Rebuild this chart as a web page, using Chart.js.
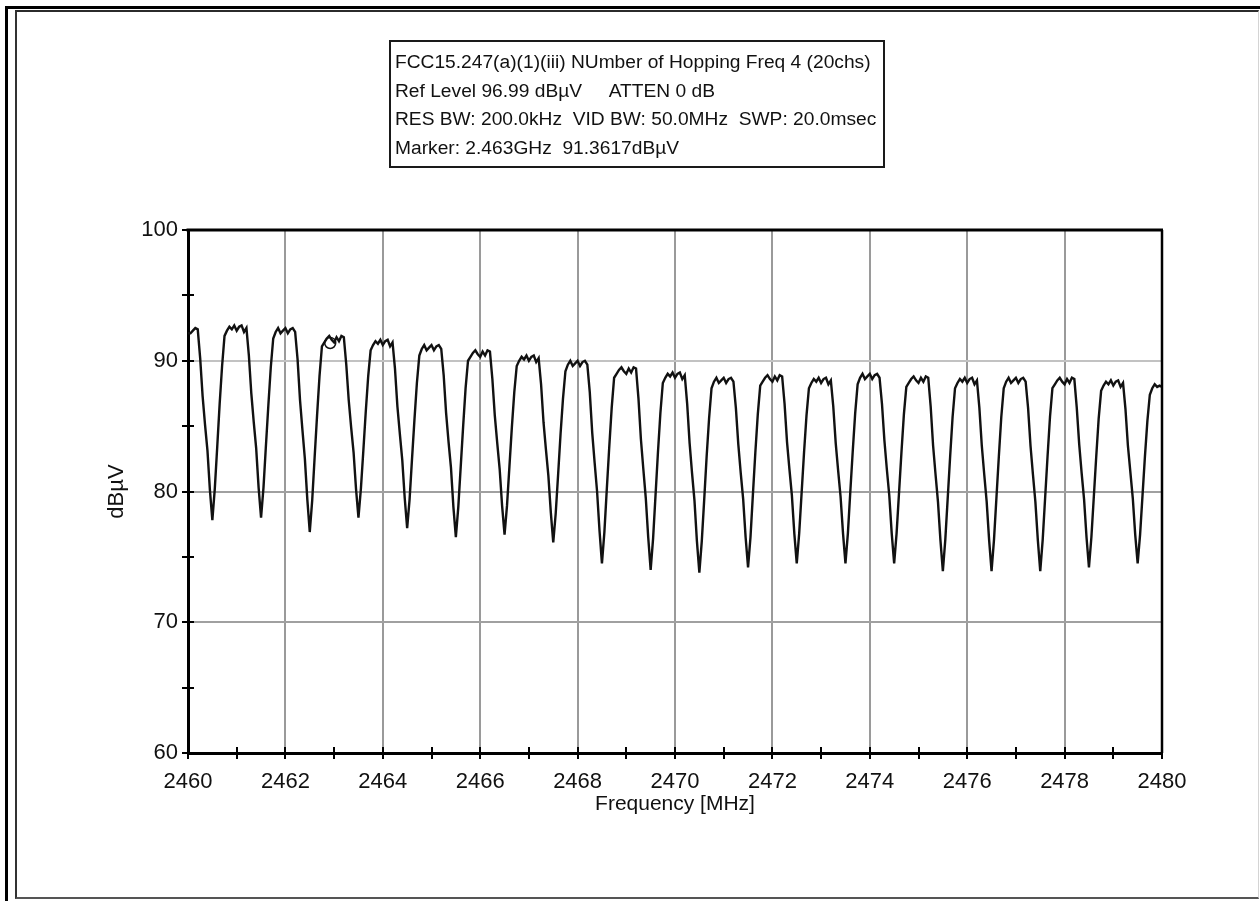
<!DOCTYPE html>
<html><head><meta charset="utf-8">
<script src="https://cdn.jsdelivr.net/npm/chart.js@4.4.0/dist/chart.umd.min.js"></script>
<style>
html,body{margin:0;padding:0;background:#fff;}
#wrap{position:relative;width:1260px;height:901px;overflow:hidden;background:#fff;}
.fr{position:absolute;}
canvas{position:absolute;left:0;top:0;}
</style></head><body>
<div id="wrap">
<div class="fr" style="left:5px;top:6px;width:1255px;height:3px;background:#000"></div>
<div class="fr" style="left:5px;top:6px;width:3px;height:895px;background:#000"></div>
<div class="fr" style="left:15px;top:10px;width:1244px;height:889px;box-sizing:border-box;border-top:2px solid #2b2b2b;border-left:2px solid #333;border-bottom:2px solid #555;border-right:1px solid #d4d4d4"></div>
<canvas id="c" width="1260" height="901"></canvas>
</div>
<script>
// Sweep grid of the analyzer (start and bin spacing, MHz)
const sweepStartMHz = 2460;
const sweepStepMHz = 0.05;

// Measured trace levels (dBµV), one row per MHz, 20 sweep bins per row
const levelRows = [
  [92.1, 92.1, 92.3, 92.5, 92.4, 90.2, 87.3, 85.1, 83.1, 80.1, 77.8, 80.2, 83.4, 86.7, 89.6, 91.9, 92.3, 92.6, 92.4, 92.7],
  [92.3, 92.6, 92.7, 92.2, 92.5, 90.4, 87.5, 85.3, 83.3, 80.3, 78.0, 80.3, 83.5, 86.6, 89.5, 91.7, 92.2, 92.5, 92.1, 92.3],
  [92.5, 92.1, 92.4, 92.5, 92.2, 90.1, 87.0, 84.7, 82.5, 79.4, 76.9, 79.3, 82.6, 85.8, 88.8, 91.1, 91.4, 91.7, 91.9, 91.6],
  [91.4, 91.8, 91.5, 91.9, 91.8, 89.7, 87.0, 84.9, 83.0, 80.2, 78.0, 80.2, 83.1, 86.1, 88.8, 90.8, 91.2, 91.5, 91.3, 91.6],
  [91.2, 91.5, 91.6, 91.1, 91.4, 89.4, 86.5, 84.4, 82.4, 79.5, 77.2, 79.4, 82.5, 85.5, 88.3, 90.4, 90.9, 91.2, 90.8, 91.0],
  [91.2, 90.8, 91.1, 91.2, 90.9, 88.9, 86.0, 83.8, 81.8, 78.8, 76.5, 78.8, 81.9, 85.0, 87.9, 90.0, 90.3, 90.6, 90.8, 90.5],
  [90.3, 90.7, 90.4, 90.8, 90.7, 88.6, 85.8, 83.7, 81.7, 78.9, 76.7, 78.9, 81.9, 84.9, 87.6, 89.6, 90.0, 90.3, 90.1, 90.4],
  [90.0, 90.3, 90.4, 89.9, 90.2, 88.2, 85.3, 83.2, 81.2, 78.4, 76.1, 78.3, 81.3, 84.4, 87.1, 89.2, 89.7, 90.0, 89.6, 89.8],
  [90.0, 89.6, 89.9, 90.0, 89.7, 87.6, 84.5, 82.2, 80.0, 77.0, 74.5, 76.9, 80.2, 83.4, 86.4, 88.7, 89.0, 89.3, 89.5, 89.2],
  [89.0, 89.4, 89.1, 89.5, 89.4, 87.1, 84.0, 81.7, 79.5, 76.5, 74.0, 76.4, 79.7, 83.0, 86.0, 88.3, 88.7, 89.0, 88.8, 89.1],
  [88.7, 89.0, 89.1, 88.6, 88.9, 86.7, 83.7, 81.4, 79.3, 76.2, 73.8, 76.2, 79.4, 82.7, 85.6, 87.9, 88.4, 88.7, 88.3, 88.5],
  [88.7, 88.3, 88.6, 88.7, 88.4, 86.4, 83.6, 81.4, 79.4, 76.5, 74.2, 76.5, 79.8, 83.0, 85.9, 88.1, 88.4, 88.7, 88.9, 88.6],
  [88.4, 88.8, 88.5, 88.9, 88.8, 86.7, 83.8, 81.7, 79.7, 76.8, 74.5, 76.8, 79.9, 83.0, 85.8, 87.9, 88.3, 88.6, 88.4, 88.7],
  [88.3, 88.6, 88.7, 88.2, 88.5, 86.5, 83.7, 81.6, 79.6, 76.8, 74.5, 76.8, 80.0, 83.1, 86.0, 88.2, 88.7, 89.0, 88.6, 88.8],
  [89.0, 88.6, 88.9, 89.0, 88.7, 86.7, 83.9, 81.7, 79.7, 76.8, 74.5, 76.8, 79.9, 83.0, 85.9, 88.0, 88.3, 88.6, 88.8, 88.5],
  [88.3, 88.7, 88.4, 88.8, 88.7, 86.5, 83.5, 81.3, 79.2, 76.3, 73.9, 76.3, 79.5, 82.7, 85.7, 87.9, 88.3, 88.6, 88.4, 88.7],
  [88.3, 88.6, 88.7, 88.2, 88.5, 86.4, 83.5, 81.3, 79.2, 76.3, 73.9, 76.3, 79.5, 82.7, 85.7, 87.9, 88.4, 88.7, 88.3, 88.5],
  [88.7, 88.3, 88.6, 88.7, 88.4, 86.4, 83.5, 81.3, 79.2, 76.3, 73.9, 76.3, 79.5, 82.7, 85.7, 87.9, 88.2, 88.5, 88.7, 88.4],
  [88.2, 88.6, 88.3, 88.7, 88.6, 86.4, 83.6, 81.4, 79.4, 76.5, 74.2, 76.5, 79.6, 82.7, 85.6, 87.7, 88.1, 88.4, 88.2, 88.5],
  [88.1, 88.4, 88.5, 88.0, 88.3, 86.3, 83.5, 81.5, 79.5, 76.7, 74.5, 76.7, 79.7, 82.7, 85.4, 87.4, 87.9, 88.2, 88.0, 88.1]
];
const lastBinLevel = 88.0;   // level at 2480 MHz

// Marker
const markerFreqMHz = [2462.92];
const markerLevel = [91.36];

// Axis tick labels
const xTickLabels = ['2460','2462','2464','2466','2468','2470','2472','2474','2476','2478','2480'];
const yTickLabels = ['60','70','80','90','100'];
const xTitle = 'Frequency [MHz]';
const yTitle = 'dBµV';

// Instrument settings box
const infoLines = [
  'FCC15.247(a)(1)(iii) NUmber of Hopping Freq 4 (20chs)',
  'Ref Level 96.99 dBµV     ATTEN 0 dB',
  'RES BW: 200.0kHz  VID BW: 50.0MHz  SWP: 20.0msec',
  'Marker: 2.463GHz  91.3617dBµV'
];

// ---- build data ----
const levels = levelRows.flat().concat([lastBinLevel]);
const tracePoints = levels.map((v, i) => ({ x: +(sweepStartMHz + i * sweepStepMHz).toFixed(2), y: v }));
const markerPoints = markerFreqMHz.map((f, i) => ({ x: f, y: markerLevel[i] }));

const FONT = "'Liberation Sans', Arial, sans-serif";

const decor = {
  id: 'decor',
  afterDraw(chart) {
    const { ctx, chartArea: a, scales: { x, y } } = chart;
    ctx.save();
    ctx.strokeStyle = '#000';
    ctx.lineWidth = 3;
    ctx.beginPath(); ctx.moveTo(a.left - 1.5, a.top); ctx.lineTo(a.right + 1, a.top); ctx.stroke();
    ctx.lineWidth = 2.5;
    ctx.beginPath(); ctx.moveTo(a.right, a.top); ctx.lineTo(a.right, a.bottom); ctx.stroke();
    ctx.lineWidth = 2;
    x.ticks.forEach(t => {
      const px = Math.round(x.getPixelForValue(t.value));
      ctx.beginPath(); ctx.moveTo(px, a.bottom - 6); ctx.lineTo(px, a.bottom + 6); ctx.stroke();
    });
    y.ticks.forEach(t => {
      const py = Math.round(y.getPixelForValue(t.value));
      ctx.beginPath(); ctx.moveTo(a.left - 6, py); ctx.lineTo(a.left + 6, py); ctx.stroke();
    });
    // info box
    const bx = 390, by = 41, bw = 494, bh = 126;
    ctx.fillStyle = '#fff';
    ctx.fillRect(bx, by, bw, bh);
    ctx.strokeStyle = '#1a1a1a';
    ctx.lineWidth = 2;
    ctx.strokeRect(bx, by, bw, bh);
    ctx.fillStyle = '#111';
    ctx.font = '19.2px ' + FONT;
    ctx.textBaseline = 'alphabetic';
    ctx.textAlign = 'left';
    infoLines.forEach((s, i) => ctx.fillText(s, bx + 5, by + 27 + i * 28.5));
    ctx.restore();
  }
};

new Chart(document.getElementById('c'), {
  type: 'line',
  data: {
    datasets: [
      { data: tracePoints, borderColor: '#111', borderWidth: 2.4, pointRadius: 0, tension: 0, fill: false },
      { data: markerPoints, showLine: false, pointRadius: 5.5, pointStyle: 'circle', borderColor: '#111', borderWidth: 1.5, backgroundColor: 'rgba(0,0,0,0)' }
    ]
  },
  options: {
    responsive: false,
    animation: false,
    devicePixelRatio: 1,
    layout: { padding: { left: 0, top: 230, right: 98, bottom: 0 } },
    plugins: { legend: { display: false }, tooltip: { enabled: false }, title: { display: false } },
    scales: {
      x: {
        type: 'linear', min: 2460, max: 2480,
        afterFit(s) { s.height = 148; },
        ticks: {
          stepSize: 1, autoSkip: false, maxRotation: 0, padding: 10, color: '#111',
          font: { family: FONT, size: 22 },
          callback: v => xTickLabels.includes(String(v)) ? String(v) : ''
        },
        grid: {
          color: c => (c.tick && xTickLabels.includes(String(c.tick.value)) && c.tick.value > 2460 && c.tick.value < 2480) ? '#9a9a9a' : 'rgba(0,0,0,0)',
          lineWidth: 2, drawTicks: true, tickLength: 6, tickColor: 'rgba(0,0,0,0)'
        },
        border: { display: true, color: '#000', width: 3 },
        title: { display: true, text: xTitle, color: '#111', font: { family: FONT, size: 21 }, padding: { top: 4, bottom: 84 } }
      },
      y: {
        min: 60, max: 100,
        afterFit(s) { s.width = 188; },
        ticks: {
          stepSize: 5, autoSkip: false, padding: 4, color: '#111',
          font: { family: FONT, size: 22 },
          callback: v => yTickLabels.includes(String(v)) ? String(v) : ''
        },
        grid: {
          color: c => {
            if (!c.tick) return 'rgba(0,0,0,0)';
            const v = c.tick.value;
            if (v === 90) return '#c2c2c2';
            if (v === 70 || v === 80) return '#a0a0a0';
            return 'rgba(0,0,0,0)';
          },
          lineWidth: 2, drawTicks: true, tickLength: 6, tickColor: 'rgba(0,0,0,0)'
        },
        border: { display: true, color: '#000', width: 3 },
        title: { display: true, text: yTitle, color: '#111', font: { family: FONT, size: 22 }, padding: { top: 104, bottom: 0 } }
      }
    }
  },
  plugins: [decor]
});
</script>
</body></html>
